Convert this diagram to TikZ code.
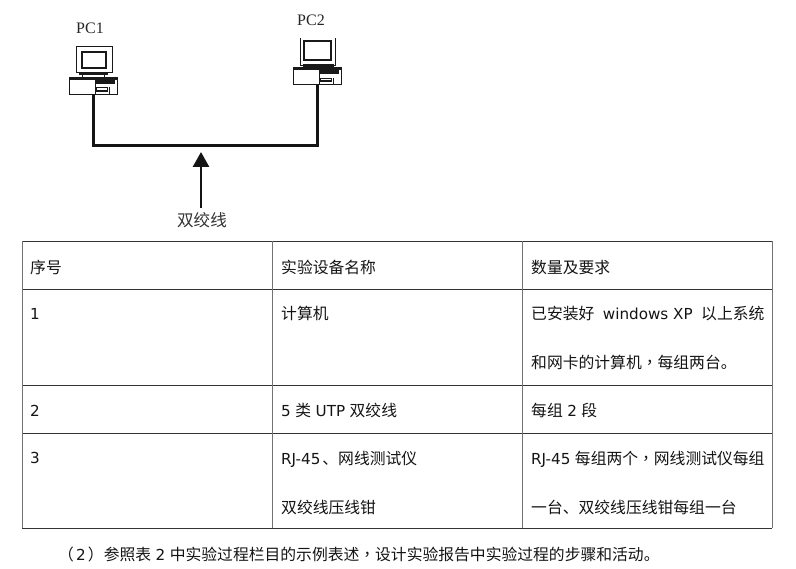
\documentclass[tikz,border=0pt]{standalone}
\usepackage{fontspec}
\setmainfont{Noto Sans CJK SC}
\newfontfamily\pcfont{Liberation Serif}
\newfontfamily\tcfont{Noto Sans CJK TC}
\newfontfamily\latfont[Scale=0.96]{DejaVu Sans}
\newcommand{\lat}[1]{{\latfont #1}}
\newcommand{\gap}{\hspace{4.5pt}}
\newcommand{\midcomma}{{\tcfont ，}}
\usetikzlibrary{arrows.meta}
\tikzset{
  cell/.style={anchor=base west,inner sep=0pt,font=\fontsize{15.8}{16}\selectfont,text=black!92},
  grid/.style={draw=black!80,line width=0.8pt},
  vgrid/.style={draw=black!55,line width=0.8pt},
  pclabel/.style={inner sep=0pt,font=\pcfont\fontsize{16}{16}\selectfont,text=black!85},
  pcline/.style={draw=black!90,line width=0.9pt},
  pcdark/.style={fill=black!90},
  pcbox/.style={draw=black!90,line width=0.8pt,fill=white,inner sep=0pt,minimum width=48pt,minimum height=17pt},
  cable/.style={line width=3pt,draw=black!92},
  pointer/.style={line width=2.8pt,draw=black!92,-{Triangle[length=15pt,width=16pt]}},
}
% the tower under a monitor: name, x and y of its top-left corner
\newcommand{\pcbase}[3]{%
  \node[pcbox,anchor=north west] (#1) at (#2,#3) {};
  \begin{scope}[shift={(#2,#3)}]
    \fill[pcdark] (0,0) rectangle (48,3);
    \fill[pcdark] (26,0) rectangle (46,7);
    \fill[white] (27,8) rectangle (43,10.5);
    \fill[pcdark] (26,10.5) rectangle (39,15);
    \fill[white] (28,11.5) rectangle (38,13);
    \draw[pcline] (26,3) -- (26,17);
    \draw[pcline] (40,10.5) -- (40,17);
  \end{scope}
}
\begin{document}
\begin{tikzpicture}[x=1pt,y=-1pt]
\useasboundingbox (0,0) rectangle (796,569);
% PC1 monitor
\draw[pcline,fill=white] (76.5,46) rectangle (112,72);
\draw[draw=black!90,line width=1.8pt] (82,52) rectangle (106,68);
\draw[pcline,pcdark] (79,72) rectangle (107,74);
\draw[pcline] (82,74) -- (82,77) (104,74) -- (104,77);
\pcbase{pca}{69}{77}
% PC2 monitor
\draw[pcline] (300.5,38) -- (300.5,65) -- (335.5,65) -- (335.5,38);
\draw[draw=black!90,line width=1.8pt] (304,41) rectangle (331,60);
\draw[pcline,pcdark] (303,64) rectangle (333,66);
\draw[pcline] (306,66) -- (306,68) (330,66) -- (330,68);
\pcbase{pcb}{293}{67.5}
\node[pclabel] (labela) at (90,28) {PC1};
\node[pclabel] (labelb) at (311,20) {PC2};
% cable
\coordinate (junction) at (201,146);
\coordinate (arrowtail) at (201,208);
\draw[cable] (pca.south) |- (junction) -| (pcb.south);
\draw[pointer] (arrowtail) -- ([yshift=-6pt]junction);
\node[inner sep=0pt,font=\fontsize{16.6}{16}\selectfont,text=black!80] (twisted) at (202,220) {双绞线};
% table
\draw[grid] (22,241.5) -- (772,241.5);
\draw[grid] (22,289.5) -- (772,289.5);
\draw[grid] (22,385.3) -- (772,385.3);
\draw[grid] (22,433.3) -- (772,433.3);
\draw[grid] (22,528.3) -- (772,528.3);
\draw[vgrid] (22,241.5) -- (22,528.3);
\draw[vgrid] (272,241.5) -- (272,528.3);
\draw[vgrid] (522,241.5) -- (522,528.3);
\draw[vgrid] (772,241.5) -- (772,528.3);
% row 1
\node[cell] (c11) at (30,273.5) {序号};
\node[cell] (c12) at (281,273.5) {实验设备名称};
\node[cell] (c13) at (531,273.5) {数量及要求};
% row 2
\node[cell] (c21) at (30,319.5) {\lat{1}};
\node[cell] (c22) at (281,320) {计算机};
\node[cell] (c23) at (531,320) {已安装好\hspace{8.5pt}\lat{windows XP}\hspace{8.5pt}以上系统};
\node[cell] (c23b) at (531,369) {和网卡的计算机\midcomma 每组两台。};
% row 3
\node[cell] (c31) at (30,416.5) {\lat{2}};
\node[cell] (c32) at (281,417) {\lat{5}\gap 类\gap\lat{UTP}\gap 双绞线};
\node[cell] (c33) at (531,417) {每组\gap\lat{2}\gap 段};
% row 4
\node[cell] (c41) at (30,464) {\lat{3}};
\node[cell] (c42) at (281,465) {\lat{RJ-45}\kern2pt 、网线测试仪};
\node[cell] (c42b) at (281,513) {双绞线压线钳};
\node[cell] (c43) at (531,465) {\lat{RJ-45}\gap 每组两个\midcomma 网线测试仪每组};
\node[cell] (c43b) at (531,513) {一台、双绞线压线钳每组一台};
% caption
\node[cell] (caption) at (58,560) {（\kern2pt\lat{2}\kern2.3pt）参照表\gap\lat{2}\gap 中实验过程栏目的示例表述\midcomma 设计实验报告中实验过程的步骤和活动。};
\end{tikzpicture}
\end{document}
